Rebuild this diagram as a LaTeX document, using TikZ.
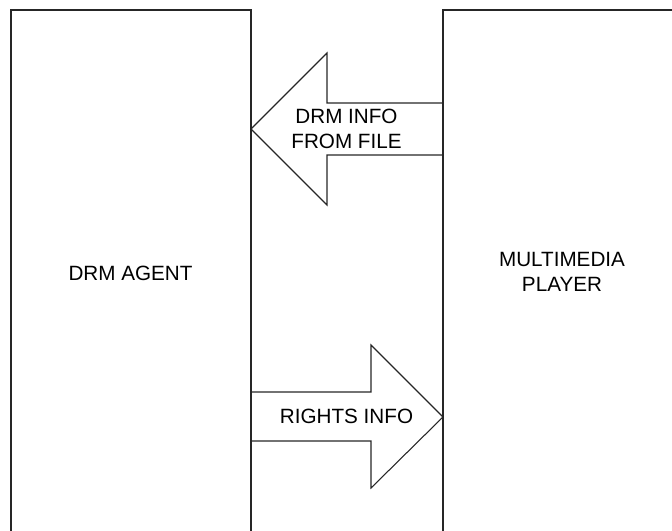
\documentclass[tikz,border=0pt]{standalone}
\usepackage{fontspec}
\setmainfont{Liberation Sans}
\begin{document}
\begin{tikzpicture}
[x=0.75pt,y=-0.75pt,
  boxdecorate/.style={draw=black!85,line width=0.8pt},
  arrowdecorate/.style={draw=black!85,line width=0.8pt,line join=miter},
  labeldecorate/.style={align=center,inner sep=0pt,font=\fontsize{15.5}{18.8}\selectfont}]
\useasboundingbox (0,0) rectangle (672,531);
\clip (0,0) rectangle (672,531);
%% blocks
\draw[boxdecorate] (11,545) -- (11,10) -- (251,10) -- (251,545);
\draw[boxdecorate] (443,545) -- (443,10) -- (690,10);
%% arrows
\draw[arrowdecorate] (443,103) -- (327,103) -- (327,53) -- (251,129)
  -- (327,205) -- (327,155) -- (443,155);
\draw[arrowdecorate] (251,392) -- (371,392) -- (371,345) -- (443,417)
  -- (371,488) -- (371,441) -- (251,441);
%% labels
\foreach \nodename/\x/\y/\text in {agent/130.5/273/DRM AGENT,
  player/562/271.5/MULTIMEDIA\\PLAYER, info/346.5/128.5/DRM INFO\\FROM FILE,
  rights/346.5/416/RIGHTS INFO}
{
  \node (\nodename) at (\x,\y) [labeldecorate] {\text};
}
\end{tikzpicture}
\end{document}
